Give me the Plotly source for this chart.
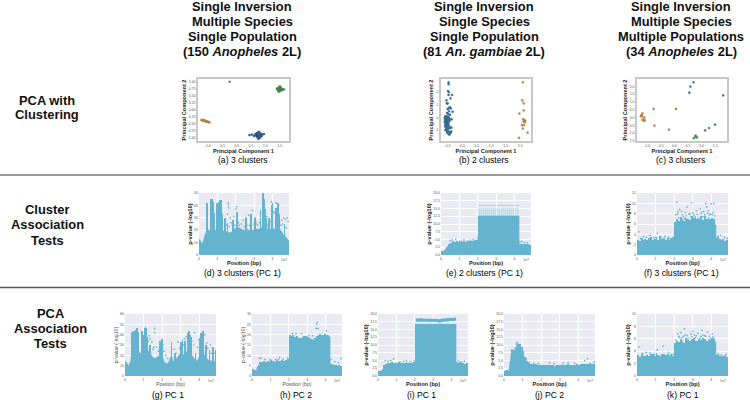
import plotly.graph_objects as go

# ---------- data ----------
POS = [0,.1,.2,.3,.4,.5,.6,.7,.8,.9,1.0,1.1,1.2,1.3,1.4,1.5,1.6,1.7,1.8,1.9,2.0,2.1,2.2,2.3,2.4,2.5,2.6,2.7,2.8,2.9,3.0,3.1,3.2,3.3,3.4,3.5,3.6,3.7,3.8,3.9,4.0,4.1,4.2,4.3,4.4,4.5,4.6,4.7,4.8,4.9]
FR = [.05,.15,.25,.35,.45,.55,.65,.75,.85,.95,1.05,1.15,1.25,1.35,1.45,1.55,1.65,1.75,1.85,1.95,2.05,2.15,2.25,2.35,2.45,2.55,2.65,2.75,2.85,2.95,3.05,3.15,3.25,3.35,3.45,3.55,3.65,3.75,3.85,3.95,4.05,4.15,4.25,4.35,4.45,4.55,4.65,4.75,4.85]

# PCA scatter values
a_green_x = [-.24,1.40,1.43,1.45,1.47,1.49,1.50,1.52,1.54,1.56,1.58,1.60,1.65,1.50,1.46,1.55]
a_green_y = [1.0,.75,.70,.78,.72,.66,.74,.80,.72,.69,.73,.72,.73,.83,.65,.76]
a_orange_x = [-1.22,-1.18,-1.15,-1.12,-1.09,-1.06,-1.03,-1.0,-.97,-.94,-1.2,-1.1]
a_orange_y = [-.38,-.38,-.39,-.41,-.41,-.42,-.43,-.44,-.45,-.46,-.37,-.40]
a_blue_x = [.45,.53,.60,.65,.68,.70,.72,.74,.76,.78,.80,.82,.84,.86,.90,.95,.75,.72,.80,.70,.78,.84,.74]
a_blue_y = [-.92,-.90,-.95,-.88,-.93,-.98,-.90,-.84,-.95,-1.0,-.89,-.94,-.86,-.97,-.90,-.88,-1.05,-.93,-1.03,-.85,-.80,-.92,-.97]

b_blue_x = [-.47,-.47,-.49,-.46,-.47,-.35,-.40,-.54,-.50,-.53,-.43,-.47,-.39,-.50,-.33,-.45,-.52,-.48,-.42,-.58,-.55,-.50,-.46,-.60,-.56,-.52,-.47,-.36,-.41,-.59,-.55,-.50,-.44,-.60,-.56,-.52,-.48,-.58,-.53,-.49,-.57,-.51,-.46,-.59,-.55,-.50,-.37,-.41,-.45,-.55,-.50,-.58,-.53,-.48,-.38,-.42,-.52,-.47,-.44,-.40]
b_blue_y = [2.72,2.58,2.05,1.97,1.75,1.75,1.48,1.32,1.09,1.09,.80,.70,.70,.65,.44,.47,.35,.25,.20,.10,.08,.05,.0,-.05,-.08,-.10,-.12,-.15,-.15,-.20,-.25,-.28,-.30,-.35,-.38,-.42,-.45,-.50,-.52,-.55,-.60,-.62,-.65,-.70,-.75,-.78,-.80,-.80,-.85,-.90,-.95,-1.0,-1.05,-1.10,-1.10,-1.15,-1.20,-1.30,-1.35,-1.22]
b_orange_x = [2.09,2.07,2.12,2.12,1.97,2.10,2.14,2.17,2.12,2.16,2.06,2.13,2.09,2.25,1.96]
b_orange_y = [2.73,1.32,1.09,.54,.30,-.14,-.22,-.27,-.32,-.38,-.61,-.61,-.87,-1.19,-1.60]

c_blue_x = [.70,.59,.55,1.79]
c_blue_y = [2.26,1.98,1.59,1.42]
c_orange_x = [-1.17,-1.20,-1.23,-1.18,-1.10,-1.17,-1.09,-1.11,-.76,.06,-.73,-.20]
c_orange_y = [.27,.16,.08,.08,-.01,-.14,-.18,-.20,.55,.55,-.52,-.78]
c_green_x = [1.49,1.27,1.13,.78,.77,.83,.71]
c_green_y = [-.46,-.67,-.82,-1.16,-1.23,-1.27,-1.33]

# association panels: envelope of the dense points, fringe/spike columns, loose points
d_env = [13,11,9,15,19,20,20,20,20,20,20,20,21,20,19,19,18,18,19,20,22,22,22,21,20,20,21,20,20,20,20,21,21,21,22,22,22,21,21,21,21,21,21,22,21,19,16,15,13,11]
d_spike_x = [.43,.47,.62,.66,.70,.73,.76,.80,.98,1.02,1.08,1.13,1.18,1.22,1.28,1.40,1.55,1.85,2.05,2.10,2.55,2.85,3.05,3.35,3.45,3.50,3.53,3.58,3.65,3.80,3.95,4.00,4.20,4.30,4.35,4.65]
d_spike_y = [42,38,42,45,42,45,43,34,42,38,43,44,44,38,33,30,26,28,35,31,30,33,30,36,42,50,45,37,30,30,40,42,38,42,33,25]
d_dot_x = [1.6,1.6,1.62,1.55,1.7,2.0,2.05,1.9,2.2,2.4,2.9,3.05,2.55,2.6,3.0,3.2,3.95,4.0,4.05,4.1,4.2,4.3,4.35,4.5,4.6,4.7,4.8,4.85,1.45,1.75,2.7,3.1,3.7,3.9,1.5,1.65,1.8,1.95,2.15,2.3,2.45,2.75,3.15,3.3,3.75,3.85,4.15,4.45,4.55,4.75]
d_dot_y = [42,40,38,33,30,37,39,31,24,28,36,30,30,24,25,24,43,30,35,34,42,41,30,28,30,29,30,27,28,26,32,27,31,27,24,23,25,24,26,25,23,24,25,26,24,25,27,24,25,22]

e_x = [0,.1,.2,.3,.4,.5,.7,.9,1.1,1.3,1.5,1.7,1.9,2.03,2.03,4.25,4.25,4.5,4.7,4.9]
e_y = [1.2,1.0,1.5,2.4,3.2,3.8,4.0,4.1,4.0,4.1,4.2,4.2,4.4,4.6,12.6,12.6,3.4,3.3,3.2,3.1]
e_fringe = [1.3,1.1,1.7,2.6,3.4,4,4.4,4.2,4.5,4.3,4.4,4.2,4.5,4.3,4.5,4.4,4.6,4.5,4.7,4.8,12.6,12.6,12.6,12.6,12.6,12.6,12.6,12.6,12.6,12.6,12.6,12.6,12.6,12.6,12.6,12.6,12.6,12.6,12.6,12.6,12.6,12.6,3.6,3.7,3.4,3.5,3.4,3.4,3.2]
e_band_y = [16.0,14.9,14.3,13.6,12.9]
e_dot_x = [.5,.6,.8,1.1,1.25,1.45,1.6,1.75,1.9,2.0,4.3,4.4,4.55,4.7,2.5,2.8,3.0,3.2,3.5,3.7,3.9]
e_dot_y = [4.6,4.9,5.0,4.4,4.9,4.5,4.8,5.0,4.7,5.4,4.1,4.4,4.0,4.0,11.9,12.0,11.8,11.9,12.0,12.1,11.8]

f_x = [0,.2,.4,.6,.8,1.0,1.2,1.4,1.6,1.8,2.03,2.03,2.3,2.6,2.9,3.2,3.5,3.8,4.25,4.25,4.5,4.7,4.9]
f_y = [2.5,2.6,2.5,2.6,2.5,2.8,2.6,2.7,2.5,2.8,2.9,5.7,6.0,6.1,6.4,6.3,6.2,6.0,5.8,2.8,2.6,2.5,2.4]
f_fringe = [3.0,2.8,3.3,2.9,3.1,2.9,3.2,3.4,3.0,3.1,3.4,3.0,3.6,3.1,3.2,3.0,3.3,3.0,3.2,3.2,6.4,7.0,6.6,7.4,6.9,6.5,7.2,7.0,6.8,7.6,7.1,7.4,6.9,7.0,7.5,6.8,7.6,7.0,7.3,6.9,7.1,7.0,3.2,3.4,3.1,3.0,3.1,2.8,2.9]
f_dot_x = [.1,.2,.35,.5,.7,.9,1.0,1.1,1.3,1.5,1.7,1.95,2.1,2.15,2.2,2.25,2.3,2.35,2.4,2.5,2.55,2.65,2.7,2.8,2.9,2.95,3.0,3.1,3.2,3.3,3.4,3.45,3.55,3.6,3.7,3.75,3.8,3.9,4.0,4.1,4.15,4.35,4.5,4.7,4.85,2.2,2.45,2.6,2.85,3.05,3.25,3.5,3.65,3.85,3.95,4.05,4.2]
f_dot_y = [4.5,3.2,3.6,3.4,3.8,3.3,3.4,4.2,3.3,3.6,3.4,3.4,7.8,10.2,8.0,7.2,8.8,7.0,8.4,7.4,7.0,7.6,9.3,8.0,7.4,10.1,8.2,7.5,8.6,7.1,9.0,8.0,7.4,8.4,10.0,9.3,8.1,7.8,9.9,8.2,10.0,3.6,3.8,3.4,3.2,8.4,7.8,8.2,7.9,7.8,7.9,8.3,7.8,8.6,7.9,7.8,7.6]

g_env = [15,13,10,14,24,26,24,26,22,21,24,27,26,23,20,18,17,18,19,22,20,14,12,12,15,20,14,15,18,20,22,20,21,23,26,27,20,17,15,15,19,22,22,20,17,15,15,14,14,14]
g_spike_x = [.37,.42,.50,.55,.60,.65,.70,.92,.96,1.05,1.10,1.15,1.20,1.35,1.90,1.95,2.00,2.50,2.70,3.00,3.10,3.25,3.40,3.45,3.50,3.55,3.80,4.05,4.10,4.20,4.35,4.55,4.75,4.88]
g_spike_y = [43,43,44,42,45,46,43,44,40,46,47,46,38,30,34,32,36,33,22,33,35,34,42,44,40,38,22,37,42,44,30,25,28,25]
g_dot_x = [1.35,1.6,1.6,1.45,1.7,2.05,2.2,2.65,2.85,3.0,3.2,3.5,3.3,3.75,3.9,4.0,4.2,4.3,4.4,4.6,4.65,1.3,1.25,2.1,1.5,1.55,1.8,2.3,2.75,2.95,3.15,3.6,3.7,4.45,4.8]
g_dot_y = [36,46,42,33,28,30,20,26,33,30,36,33,38,42,28,35,38,40,32,30,22,39,34,24,26,28,24,17,22,27,30,34,30,27,22]

h_x = [0,.1,.2,.3,.4,.5,.7,.9,1.1,1.3,1.5,1.7,1.9,2.03,2.03,2.2,2.4,2.6,2.8,3.0,3.2,3.4,3.6,3.8,4.0,4.25,4.25,4.4,4.6,4.9]
h_y = [3,2.5,2.2,4,6,6,6.5,6.5,7,6.8,6.8,7,7.2,7.5,19,18.5,18,17,18.5,18,17,16,18.5,19,19,19,5.3,5,5,4.5]
h_fringe = [3.2,2.8,2.6,5,7,6.6,7.2,6.8,7.5,7,7.6,7.2,7,7.8,7.4,7.2,7.6,7.4,7.8,8,20,19.5,19.8,19,19.2,18.6,18.2,19,19.4,19.2,18.8,18.2,17.8,17.4,18.6,19.2,19.6,19.8,20,20.2,19.8,20,5.6,5.8,5.2,5.4,5,5.2,4.8]
h_dot_x = [.4,.5,.7,1.0,1.3,1.45,1.5,1.7,1.95,2.2,2.4,2.7,3.1,3.3,3.5,3.52,3.55,3.6,3.7,4.05,4.3,4.5,4.7,4.85]
h_dot_y = [8.5,8.8,8,8,8,8.2,9.2,8,8.5,20.5,20.5,20.5,19.5,19.5,23,25,26,23,20,22,8,7,6.5,8.5]

i_x = [0,.2,.3,.4,.5,.7,.9,1.1,1.3,1.5,1.7,1.9,2.03,2.03,2.5,2.9,3.1,3.2,3.4,3.7,4.25,4.25,4.5,4.7,4.9]
i_y = [1.5,1.5,2.5,3.3,3.7,3.9,4,4,4,4,4,4.1,4.2,16.7,16.7,16.6,16.7,16.6,16.7,16.7,16.7,4,3.9,3.9,3.7]
i_fringe = [1.6,1.6,2.2,3.6,4,4.2,4.1,4.4,4.2,4.3,4.1,4.4,4.2,4.3,4.2,4.4,4.2,4.3,4.2,4.4,16.7,16.7,16.7,16.7,16.7,16.7,16.7,16.7,16.7,16.7,16.7,16.7,16.7,16.7,16.7,16.7,16.7,16.7,16.7,16.7,16.7,16.7,4.3,4.2,4.4,4.1,4.2,4,4.1]
i_band_x = [2.05,2.15,2.25,2.35,2.45,2.75,2.85,2.95,3.05,3.25,3.35,3.45,3.55,3.65,3.75,3.85,3.95,4.05,4.15,4.25]
i_band_y = [18.0,18.1,18.0,18.1,18.0,18.0,17.8,17.9,17.8,17.9,17.7,18.0,18.1,18.0,18.2,18.1,18.3,18.2,18.3,18.4]
i_dot_x = [.4,.55,.7,.85,1.2,1.4,1.55,1.75,1.95,4.3,4.4,4.55,4.7,2.9,3.1,3.2,3.25,3.3]
i_dot_y = [5,4.8,5,5.5,4.6,4.8,5,4.7,4.9,4.5,4.9,4.6,4.8,15.3,14,13.5,14.5,15.5]

j_x = [0,.15,.25,.3,.4,.5,.6,.7,.8,.9,1.0,1.1,1.2,1.3,1.5,1.7,1.9,2.2,2.5,2.8,3.1,3.4,3.7,4.0,4.3,4.6,4.9]
j_y = [1.5,1.6,1.4,4,7.5,7.8,8.5,10,10,9,7.5,5.5,5,4,3.6,3.5,3.3,3.2,3.2,3.1,3.2,3.5,3.4,3.3,3.6,3.7,3.8]
j_fringe = [1.7,1.8,1.5,5,8,8.4,9,10.4,10.3,9.5,8,6,5,4.2,4,3.9,3.8,3.8,3.7,3.5,3.6,3.5,3.4,3.6,3.5,3.4,3.5,3.3,3.5,3.4,3.6,3.8,3.5,3.6,3.9,3.7,3.6,3.5,3.6,3.8,3.6,3.9,4,3.8,4,3.9,4.1,3.9,4]
j_dot_x = [.4,.45,.6,.65,.7,.75,1.0,1.2,1.35,1.6,1.85,2.45,2.7,3.2,3.45,3.8,4.35,4.5,4.85]
j_dot_y = [8.3,8.4,9,10.3,10.9,10.4,7,5.5,4.4,4.2,4,4.3,4,4.2,4.3,4.1,5,5.6,4.6]

k_x = [0,.2,.4,.6,.8,1.0,1.2,1.4,1.6,1.8,2.03,2.03,2.3,2.6,2.9,3.2,3.5,3.8,4.25,4.25,4.5,4.7,4.9]
k_y = [2.8,3.0,3.0,3.1,3.1,3.2,3.1,3.2,3.0,3.1,3.1,4.6,5.0,5.2,5.3,5.4,5.3,5.4,5.5,3.0,2.9,2.8,2.7]
k_fringe = [3.4,3.1,3.5,3.3,3.2,3.4,3.3,3.6,3.5,3.3,3.7,3.4,3.3,3.6,3.5,3.4,3.6,3.3,3.5,3.3,5.4,5.7,5.5,6.0,5.6,5.4,6.1,5.8,5.6,5.9,6.2,5.7,5.6,6.0,5.8,6.1,6.0,5.7,6.0,5.8,6.1,5.9,3.4,3.5,3.2,3.3,3.2,3.4,3.1]
k_dot_x = [.1,.3,.5,.7,.95,1.1,1.4,1.7,1.95,2.1,2.2,2.25,2.35,2.45,2.55,2.6,2.75,2.9,3.0,3.1,3.15,3.3,3.4,3.5,3.55,3.7,3.8,3.95,4.05,4.15,4.4,4.55,4.8,2.3,2.5,2.7,2.95,3.2,3.45,3.65,3.9,4.1]
k_dot_y = [4.7,3.6,3.8,3.7,3.5,4.2,4.8,3.8,3.5,5.8,6.8,6.4,7.0,6.2,7.6,6.6,6.0,6.8,7.2,6.6,6.2,6.9,6.1,7.4,6.6,6.4,7.1,6.0,6.8,6.0,3.5,3.4,3.5,6.2,6.4,6.5,6.3,6.5,6.4,6.5,6.4,6.3]

HEADERS = [
    (242, ["Single Inversion", "Multiple Species", "Single Population", "(150 <i>Anopheles</i> 2L)"]),
    (484, ["Single Inversion", "Single Species", "Single Population", "(81 <i>An. gambiae</i> 2L)"]),
    (681, ["Single Inversion", "Multiple Species", "Multiple Populations", "(34 <i>Anopheles</i> 2L)"]),
]
ROW_LABELS = [(47, 100, "PCA with"), (47, 115, "Clustering"),
              (47, 209, "Cluster"), (47, 224, "Association"), (47, 240, "Tests"),
              (50, 313, "PCA"), (50, 328, "Association"), (50, 343, "Tests")]
CAPTIONS = [(243, 160, "(a) 3 clusters"), (484, 160, "(b) 2 clusters"), (680, 160, "(c) 3 clusters"),
            (242, 273, "(d) 3 clusters (PC 1)"), (484, 273, "(e) 2 clusters (PC 1)"), (681, 273, "(f) 3 clusters (PC 1)"),
            (168, 395, "(g) PC 1"), (296, 395, "(h) PC 2"), (421, 395, "(i) PC 1"),
            (549, 395, "(j) PC 2"), (683, 395, "(k) PC 1")]

# ---------- figure ----------
W, H = 750, 400
BLUE, ORANGE, GREEN = "#2E75A8", "#E08B3A", "#3C9A46"
FILL = "#64B4CF"
fig = go.Figure()
n = [0]

def axes(px, py, xt, xl, yt, yl, xr, yr, xtitle, ytitle, pca, bold=True):
    n[0] += 1
    i = n[0]
    common = dict(showline=pca, mirror=pca, linecolor="#C8C8C8", linewidth=1.5,
                  zeroline=False, showgrid=not pca, gridcolor="#FFFFFF", gridwidth=0.7,
                  ticks="", tickfont=dict(size=3.5, color="#555555", family="Liberation Sans"),
                  automargin=False)
    tf = dict(size=5.6 if bold else 5.2, color="#222222" if bold else "#555555", family="Liberation Sans")
    wrap = (lambda s: f"<b>{s}</b>") if bold else (lambda s: s)
    fig.layout[f"xaxis{i}"] = dict(common, domain=[px[0]/W, px[1]/W], range=xr, tickvals=xt, ticktext=xl,
                                   anchor=f"y{i}", title=dict(text=wrap(xtitle), font=tf, standoff=1))
    fig.layout[f"yaxis{i}"] = dict(common, domain=[1-py[1]/H, 1-py[0]/H], range=yr, tickvals=yt, ticktext=yl,
                                   anchor=f"x{i}", title=dict(text=wrap(ytitle), font=tf, standoff=1))
    return f"x{i}", f"y{i}"

def pca_panel(px, py, xt, xl, yt, yl, xr, yr, groups):
    xa, ya = axes(px, py, xt, xl, yt, yl, xr, yr, "Principal Component 1", "Principal Component 2", True)
    for gx, gy, c in groups:
        fig.add_trace(go.Scatter(x=gx, y=gy, mode="markers", xaxis=xa, yaxis=ya, showlegend=False,
                                 marker=dict(size=2.3, color=c, line=dict(width=0.2, color="#444444"))))

def assoc_panel(px, py, yt, yl, ymax, ex, ey, spikes=None, dots=None, lines=None, bold=True, wd=0.05, lw=0.9, dash="1px,1px"):
    xa, ya = axes(px, py, [0, 1, 2, 3, 4], ["0", "1", "2", "3", "4"], yt, yl, [0, 4.9], [0, ymax],
                  "Position (bp)", "p-value (-log10)", False, bold)
    fig.add_trace(go.Scatter(x=ex, y=ey, mode="lines", fill="tozeroy", xaxis=xa, yaxis=ya, showlegend=False,
                             line=dict(color=FILL, width=0.6), fillcolor=FILL))
    if spikes:
        fig.add_trace(go.Bar(x=spikes[0], y=spikes[1], width=wd, xaxis=xa, yaxis=ya, showlegend=False,
                             marker=dict(color=FILL, line=dict(width=0))))
    if lines:
        for lx, ly in lines:
            fig.add_trace(go.Scatter(x=lx, y=ly, mode="lines", xaxis=xa, yaxis=ya, showlegend=False,
                                     line=dict(color=FILL, width=lw, dash=dash)))
    if dots:
        fig.add_trace(go.Scatter(x=dots[0], y=dots[1], mode="markers", xaxis=xa, yaxis=ya, showlegend=False,
                                 marker=dict(size=1.7, color=FILL)))
    fig.add_annotation(x=px[1]/W, y=1-(py[1]+5)/H, xref="paper", yref="paper", text="1e7", showarrow=False,
                       xanchor="right", yanchor="middle", font=dict(size=3.5, color="#555555", family="Liberation Sans"))

R1, R2, R3 = (79, 141), (193, 255), (314, 376)
half = ["-1.00", "-0.75", "-0.50", "-0.25", "0.00", "0.25", "0.50", "0.75", "1.00"]
pca_panel((198, 289), R1, [-1, -.5, 0, .5, 1, 1.5], ["-1.0", "-0.5", "0.0", "0.5", "1.0", "1.5"],
          [-1, -.75, -.5, -.25, 0, .25, .5, .75, 1], half, [-1.34, 1.82], [-1.13, 1.10],
          [(a_orange_x, a_orange_y, ORANGE), (a_green_x, a_green_y, GREEN), (a_blue_x, a_blue_y, "#1F5F92")])
pca_panel((441, 531), R1, [-.5, 0, .5, 1, 1.5, 2], ["-0.5", "0.0", "0.5", "1.0", "1.5", "2.0"],
          [-1, 0, 1, 2], ["-1", "0", "1", "2"], [-.73, 2.37], [-1.84, 2.99],
          [(b_blue_x, b_blue_y, BLUE), (b_orange_x, b_orange_y, ORANGE)])
pca_panel((637, 727), R1, [-1, -.5, 0, .5, 1, 1.5], ["-1.0", "-0.5", "0.0", "0.5", "1.0", "1.5"],
          [-1.5, -1, -.5, 0, .5, 1, 1.5, 2], ["-1.5", "-1.0", "-0.5", "0.0", "0.5", "1.0", "1.5", "2.0"],
          [-1.37, 1.93], [-1.5, 2.47],
          [(c_blue_x, c_blue_y, BLUE), (c_orange_x, c_orange_y, ORANGE), (c_green_x, c_green_y, GREEN)])

t20 = [0, 2.5, 5, 7.5, 10, 12.5, 15, 17.5, 20]
l20 = ["0.0", "2.5", "5.0", "7.5", "10.0", "12.5", "15.0", "17.5", "20.0"]

assoc_panel((199, 289), R2, [0, 10, 20, 30, 40, 50], ["0", "10", "20", "30", "40", "50"], 50, POS, d_env,
            (d_spike_x, d_spike_y), (d_dot_x, d_dot_y), wd=0.04)
assoc_panel((441, 531), R2, t20, l20, 20, e_x, e_y, (FR, e_fringe), (e_dot_x, e_dot_y),
            [([2.05, 4.25], [v, v]) for v in e_band_y])
assoc_panel((637, 728), R2, [0, 2, 4, 6, 8, 10, 12], ["0", "2", "4", "6", "8", "10", "12"], 12, f_x, f_y,
            (FR, f_fringe), (f_dot_x, f_dot_y))
assoc_panel((125, 216), R3, [0, 10, 20, 30, 40, 50, 60], ["0", "10", "20", "30", "40", "50", "60"], 60, POS, g_env,
            (g_spike_x, g_spike_y), (g_dot_x, g_dot_y), bold=False, wd=0.04)
assoc_panel((252, 342), R3, [0, 5, 10, 15, 20, 25, 30], ["0", "5", "10", "15", "20", "25", "30"], 30, h_x, h_y,
            (FR, h_fringe), (h_dot_x, h_dot_y), bold=False)
assoc_panel((378, 468), R3, t20, l20, 20, i_x, i_y, (FR, i_fringe), (i_dot_x, i_dot_y), [(i_band_x, i_band_y)],
            lw=3.2, dash="solid")
assoc_panel((504, 595), R3, t20, l20, 20, j_x, j_y, (FR, j_fringe), (j_dot_x, j_dot_y))
assoc_panel((637, 728), R3, [0, 2, 4, 6, 8, 10], ["0", "2", "4", "6", "8", "10"], 10, k_x, k_y,
            (FR, k_fringe), (k_dot_x, k_dot_y))

def text(x, y, s, size, bold=True, color="#111111"):
    fig.add_annotation(x=x/W, y=1-y/H, xref="paper", yref="paper", text=f"<b>{s}</b>" if bold else s,
                       showarrow=False, xanchor="center", yanchor="middle",
                       font=dict(size=size, color=color, family="Liberation Sans"))

for cx, lines_ in HEADERS:
    for k, s in enumerate(lines_):
        text(cx, 6 + k*15.3, s, 12.9)
for x, y, s in ROW_LABELS:
    text(x, y, s, 12.9)
for x, y, s in CAPTIONS:
    text(x, y, s, 8.6, bold=False, color="#000000")

fig.add_shape(type="line", xref="paper", yref="paper", x0=0, x1=1, y0=1-175/H, y1=1-175/H,
              line=dict(color="#777777", width=1.3))
fig.add_shape(type="line", xref="paper", yref="paper", x0=0, x1=1, y0=1-287.5/H, y1=1-287.5/H,
              line=dict(color="#555555", width=1.3))

# seaborn-style panel backgrounds behind the association axes
for px, py in [((199, 289), R2), ((441, 531), R2), ((637, 728), R2), ((125, 216), R3), ((252, 342), R3),
               ((378, 468), R3), ((504, 595), R3), ((637, 728), R3)]:
    fig.add_shape(type="rect", xref="paper", yref="paper", x0=px[0]/W, x1=px[1]/W, y0=1-py[1]/H, y1=1-py[0]/H,
                  fillcolor="#EAEAF2", line=dict(width=0), layer="below")

fig.update_layout(width=W, height=H, margin=dict(l=0, r=0, t=0, b=0), paper_bgcolor="#FFFFFF",
                  plot_bgcolor="rgba(0,0,0,0)", showlegend=False, bargap=0)
fig.write_html("out.html", config={"displayModeBar": False},
               post_script="document.body.style.margin='0';")
